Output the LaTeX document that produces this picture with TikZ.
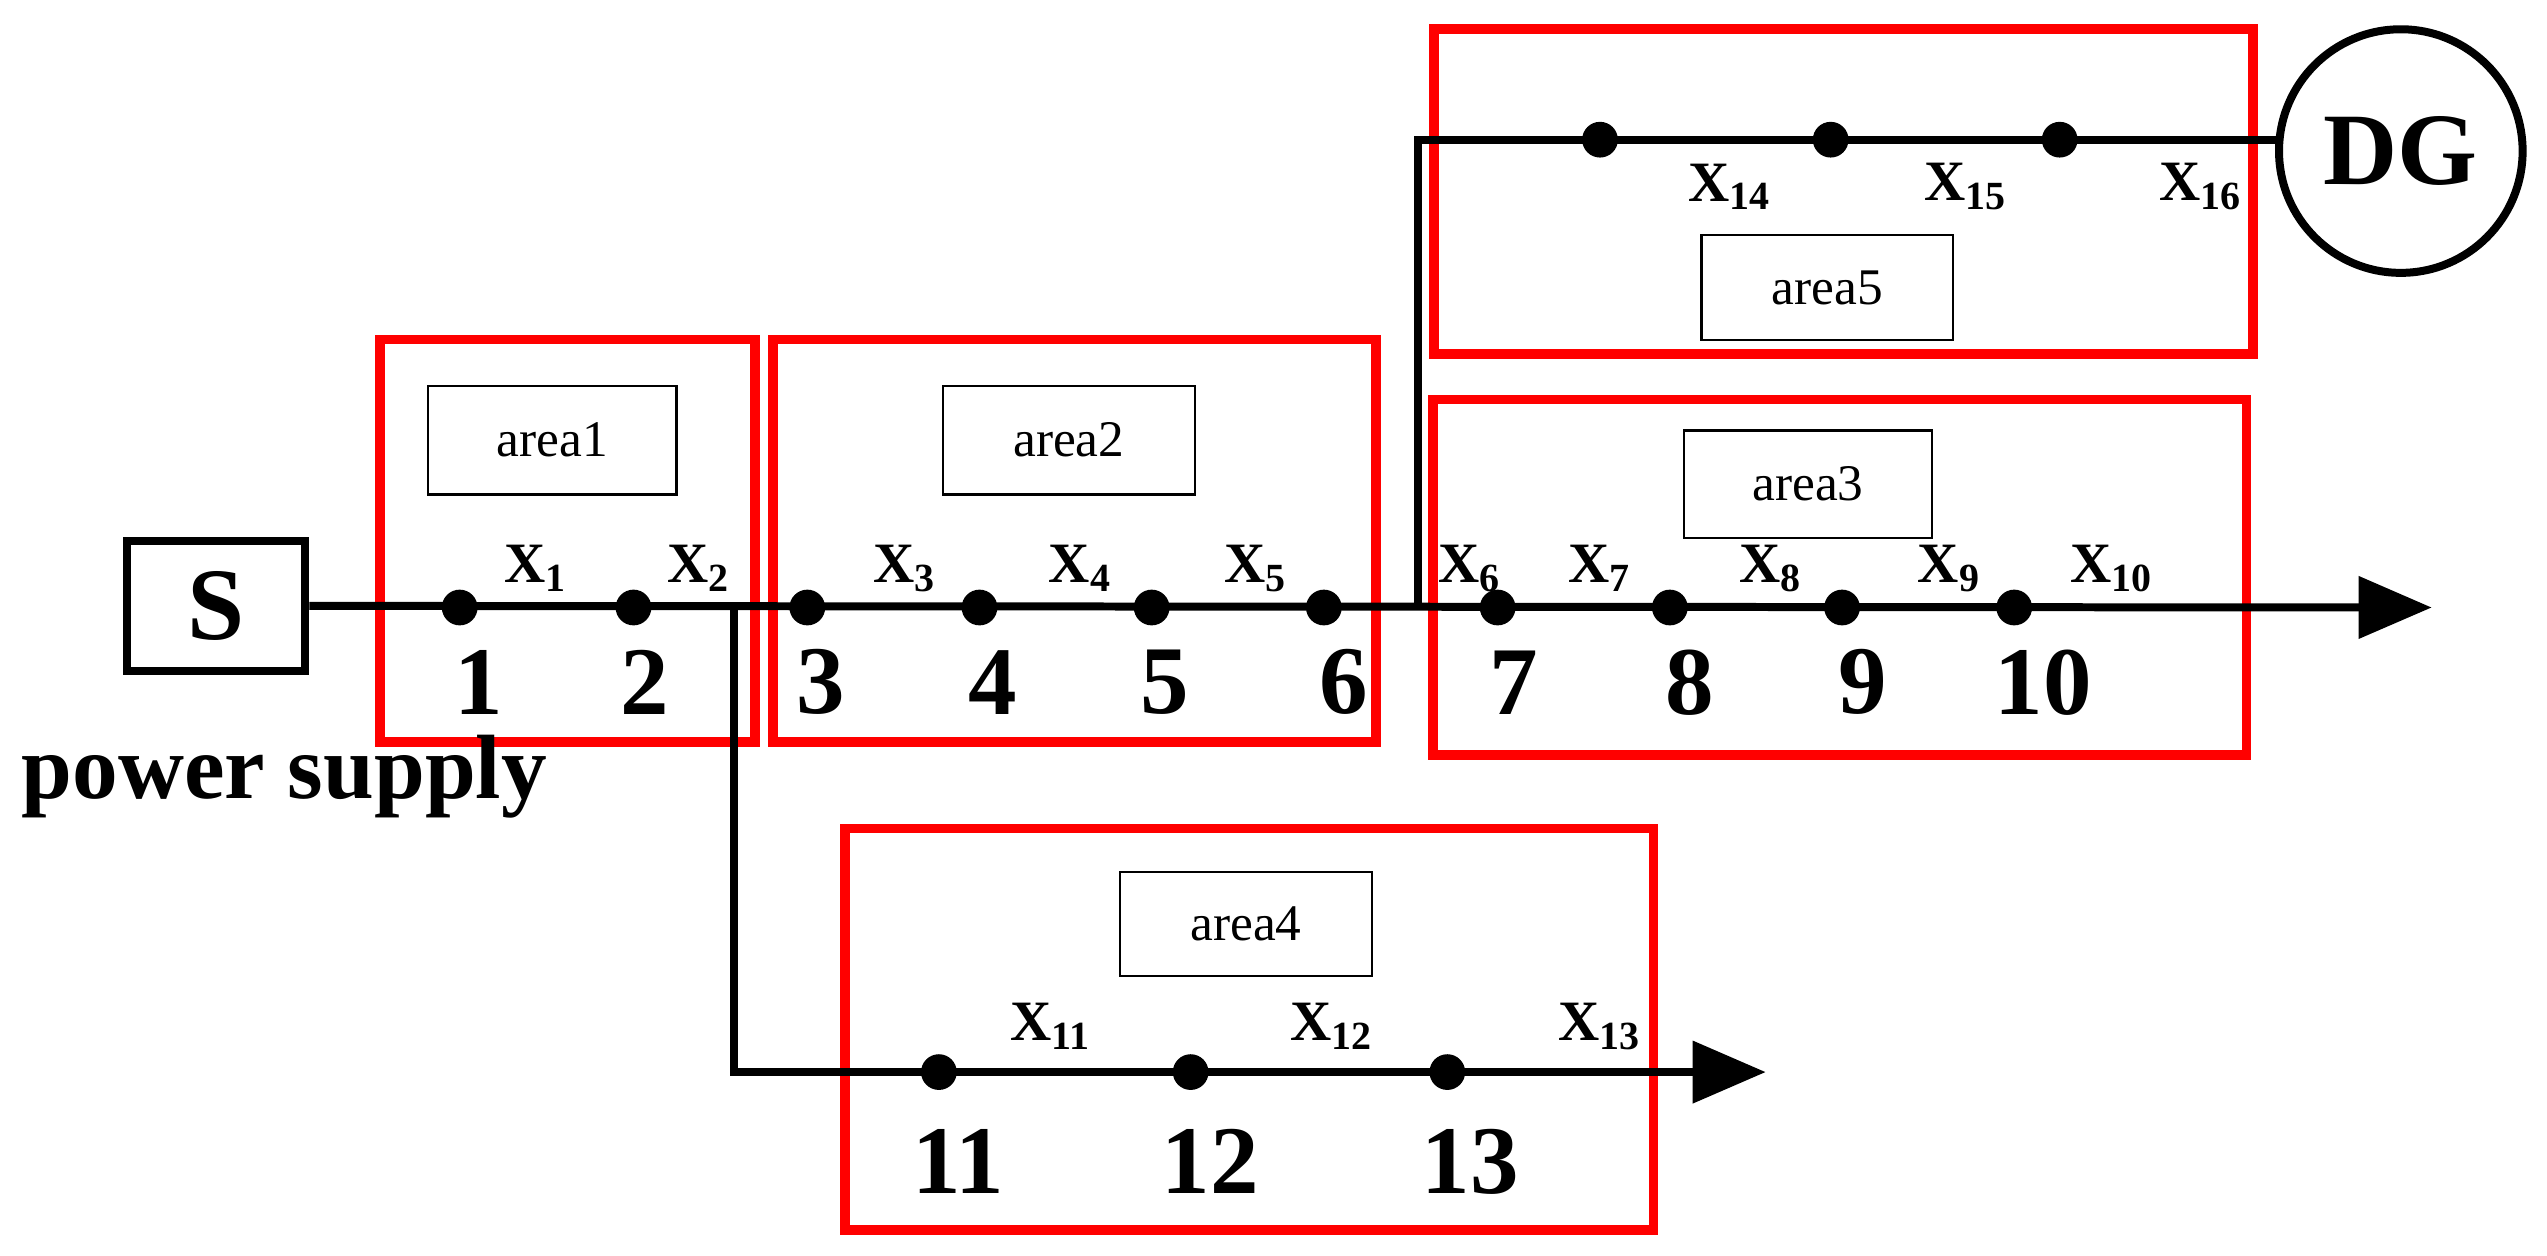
\documentclass[tikz,border=0pt]{standalone}
\usepackage{fontspec}
\setmainfont{Liberation Serif}
\usetikzlibrary{arrows.meta}
\begin{document}
\begin{tikzpicture}[x=0.02cm,y=-0.02cm,
 line/.style={line width=2.8pt},
 dot/.style={circle,fill=black,inner sep=0pt,minimum size=0.44cm},
 area/.style={draw=red,line width=3.4pt},
 lab/.style={draw,line width=0.8pt,inner sep=0pt,font=\fontsize{18}{20}\selectfont},
 num/.style={font=\fontsize{34}{36}\selectfont\bfseries,inner sep=0pt},
 xl/.style={font=\fontsize{20}{22}\selectfont\bfseries,inner sep=0pt},
 tip/.style={-{Triangle[length=0.9cm,width=0.75cm]}}]
\useasboundingbox (0,0) rectangle (1568,773);
% red areas
\draw[area] (234,209) rectangle (465,457);
\draw[area] (476,209) rectangle (847,457);
\draw[area] (882,246) rectangle (1383,465);
\draw[area] (520,510) rectangle (1018,757);
\draw[area] (883,18) rectangle (1387,218);
% area labels
\node[lab,minimum width=3.06cm,minimum height=1.34cm] (a1) at (340,271) {area1};
\node[lab,minimum width=3.1cm,minimum height=1.34cm] (a2) at (658,271) {area2};
\node[lab,minimum width=3.06cm,minimum height=1.32cm] (a3) at (1113,298) {area3};
\node[lab,minimum width=3.1cm,minimum height=1.28cm] (a4) at (767,569) {area4};
\node[lab,minimum width=3.1cm,minimum height=1.3cm] (a5) at (1125,177) {area5};
% source and DG
\node[draw,line width=2.8pt,minimum width=2.2cm,minimum height=1.6cm,font=\fontsize{36}{38}\selectfont\bfseries] (S) at (133,373) {S};
\node[font=\fontsize{32}{34}\selectfont\bfseries] (ps) at (175,478) {power supply};
\node[draw,circle,line width=2.8pt,minimum size=3cm,inner sep=0pt,font=\fontsize{36}{38}\selectfont\bfseries] (DG) at (1478,93) {DG};
% nodes main
\foreach \i/\x in {1/283,2/390,3/497,4/603,5/709,6/815,7/922,8/1028,9/1134,10/1240}
  \node[dot] (n\i) at (\x,374) {};
\foreach \i/\x in {11/578,12/733,13/891}
  \node[dot] (n\i) at (\x,660) {};
\foreach \i/\x in {14/985,15/1127,16/1268}
  \node[dot] (n\i) at (\x,86) {};
\coordinate (e1) at (1497,374);
\coordinate (e2) at (1087,660);
\coordinate (b1) at (452,374);
\coordinate (b2) at (873,374);
\coordinate (dgin) at (1404,86);
% lines
\draw[line,tip] (S.east) -- (e1);
\draw[line,tip] (b1) |- (e2);
\draw[line] (b2) |- (dgin);
% numbers
\foreach \i/\x in {1/295,2/397,3/505,4/611,5/717,6/827,7/932,8/1040,9/1147,10/1258}
  \node[num] (t\i) at (\x,420) {\i};
\foreach \i/\x in {11/590,12/745,13/905}
  \node[num] (t\i) at (\x,715) {\i};
% X labels
\foreach \i/\x in {1/330,2/430,3/557,4/665,5/773,6/905,7/985,8/1090,9/1200,10/1300}
  \node[xl] (x\i) at (\x,350) {X\textsubscript{\i}};
\foreach \i/\x in {11/647,12/820,13/985}
  \node[xl] (x\i) at (\x,632) {X\textsubscript{\i}};
\foreach \i/\x in {14/1065,15/1210,16/1355}
  \node[xl] (x\i) at (\x,115) {X\textsubscript{\i}};
\end{tikzpicture}
\end{document}
